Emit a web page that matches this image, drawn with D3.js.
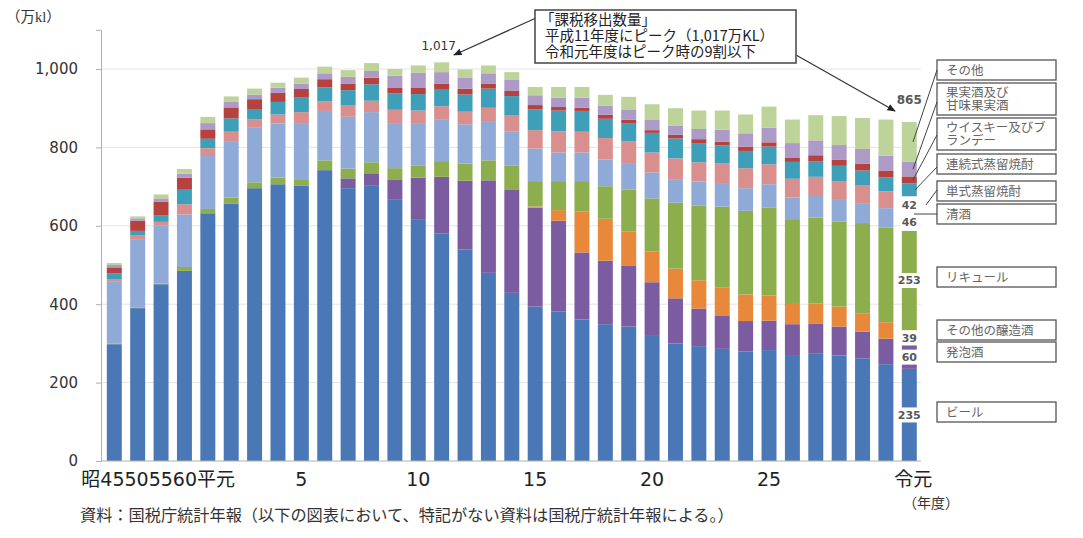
<!DOCTYPE html>
<html><head><meta charset="utf-8">
<script src="https://cdn.jsdelivr.net/npm/d3@7"></script>
<style>
body{margin:0;background:#fff;}
svg text{font-family:"DejaVu Sans","Noto Sans CJK JP",sans-serif;}
</style></head><body>
<svg id="c" width="1083" height="538"></svg>
<script>
// ---------------- data ----------------
const categories = ["昭45","昭50","昭55","昭60","平元","平2","平3","平4","平5","平6","平7","平8","平9","平10",
  "平11","平12","平13","平14","平15","平16","平17","平18","平19","平20","平21","平22","平23","平24","平25",
  "平26","平27","平28","平29","平30","令元"];
const beer        = [298,390,451,485,632,656,696,706,702,742,696,702,668,617,581,540,480,429,394,381,361,349,343,319,300,293,286,279,283,268,275,269,262,247,235];
const happoshu    = [0,0,0,0,0,0,0,0,0,0,25,32,49,106,144,175,236,264,252,232,171,162,156,137,115,96,84,78,75,81,76,74,68,65,60];
const otherBrewed = [0,0,0,0,0,0,0,0,0,0,0,0,0,0,0,0,0,0,3,27,104,107,87,78,76,72,72,68,64,54,51,51,47,42,39];
const liqueur     = [2,2,2,10,11,16,15,17,17,25,25,28,30,30,40,44,51,60,65,74,78,83,106,136,168,191,207,213,224,214,219,217,230,242,253];
const sake        = [157,174,147,134,135,144,139,138,143,126,132,128,115,109,107,100,98,87,83,73,73,68,68,66,60,61,60,58,60,55,55,55,49,49,46];
const shochuSingle= [7,9,10,26,20,24,22,23,28,24,30,29,34,32,33,32,36,41,47,54,53,55,55,51,53,49,51,51,51,48,49,48,48,43,42];
const shochuCont  = [15,12,16,37,24,34,26,32,37,36,38,42,42,42,42,44,49,50,53,53,53,49,47,50,51,49,45,44,45,43,40,39,37,36,33];
const whisky      = [15,26,36,31,24,28,25,23,22,21,17,17,15,17,15,15,13,13,11,9,8,10,9,7,9,10,10,11,11,10,15,15,17,17,18];
const wine        = [6,6,8,10,16,14,12,13,14,15,17,17,30,37,30,27,26,28,25,24,26,24,26,26,24,26,30,34,37,38,38,38,38,38,37];
const others      = [5,5,10,12,16,14,15,13,15,17,17,20,17,19,25,22,20,20,21,27,27,27,32,40,44,47,49,48,54,60,64,74,79,92,102];

const seriesNames = ["ビール","発泡酒","その他の醸造酒","リキュール","清酒","単式蒸留焼酎","連続式蒸留焼酎","ウイスキー及びブランデー","果実酒及び甘味果実酒","その他"];
const seriesValues = [beer,happoshu,otherBrewed,liqueur,sake,shochuSingle,shochuCont,whisky,wine,others];
const colors = ["#4A78B6","#7B5CA0","#E8883A","#8DAE4C","#8FAAD6","#D98F8E","#3E9FB8","#B5423F","#AE9AC6","#BDD39A"];

const yTicks = [0,200,400,600,800,1000];
const xTickCats = ["昭45","平5","平10","平15","平20","平25","令元"];
const xTickText = ["昭45505560平元","5","10","15","20","25","令元"];

const legendLines = [["その他"],["果実酒及び","甘味果実酒"],["ウイスキー及びブ","ランデー"],["連続式蒸留焼酎"],["単式蒸留焼酎"],["清酒"],["リキュール"],["その他の醸造酒"],["発泡酒"],["ビール"]];
const legendSeriesIdx = [9,8,7,6,5,4,3,2,1,0];

const noteLines = ["「課税移出数量」","平成11年度にピーク（1,017万KL）","令和元年度はピーク時の9割以下"];
const peakLabel = "1,017";
const lastTotalLabel = "865";
const unitLabel = "（万kl）";
const yearLabel = "（年度）";
const sourceText = "資料：国税庁統計年報（以下の図表において、特記がない資料は国税庁統計年報による。）";

// ---------------- chart ----------------
const svg = d3.select("#c");
svg.append("rect").attr("width",1083).attr("height",538).attr("fill","#fff");

const x = d3.scaleBand().domain(categories).range([102.6, 921]).paddingInner(0.36).paddingOuter(0.18);
const y = d3.scaleLinear().domain([0,1100]).range([461, 29.8]);

const rows = categories.map((c,i)=>{
  const r = {cat:c};
  seriesNames.forEach((s,k)=>{ r[s]=seriesValues[k][i]; });
  return r;
});
const stacked = d3.stack().keys(seriesNames)(rows);

// gridlines
svg.append("g").selectAll("line").data(yTicks.filter(d=>d>0)).join("line")
  .attr("x1",101).attr("x2",921).attr("y1",d=>y(d)).attr("y2",d=>y(d))
  .attr("stroke","#e4e4e4").attr("stroke-width",1);

// y axis
const yAxis = d3.axisLeft(y).tickValues(yTicks).tickSize(5).tickPadding(18).tickFormat(d3.format(","));
const ya = svg.append("g").attr("transform","translate(101,0)").call(yAxis);
ya.select(".domain").attr("stroke","#b0b0b0");
ya.selectAll(".tick line").attr("stroke","#b0b0b0");
ya.selectAll("text").attr("font-size",15).attr("fill","#333");

// bars
svg.append("g").selectAll("g").data(stacked).join("g")
  .attr("fill",(d,i)=>colors[i])
  .selectAll("rect").data(d=>d).join("rect")
  .attr("x",d=>x(d.data.cat)).attr("width",x.bandwidth())
  .attr("y",d=>y(d[1])).attr("height",d=>Math.max(0,y(d[0])-y(d[1])));

// x baseline
svg.append("line").attr("x1",101).attr("x2",921).attr("y1",y(0)).attr("y2",y(0)).attr("stroke","#b0b0b0");

// x axis labels
const xAxis = d3.axisBottom(x).tickValues(xTickCats).tickSize(0).tickPadding(12)
  .tickFormat(d=>xTickText[xTickCats.indexOf(d)]);
const xa = svg.append("g").attr("transform",`translate(0,${y(0)})`).call(xAxis);
xa.select(".domain").remove();
xa.selectAll("text").attr("font-size",19).attr("fill","#222");
xa.selectAll("text").filter(d=>d==="昭45").attr("text-anchor","start").attr("dx",-33);
xa.selectAll("text").filter(d=>d==="令元").attr("dx",4);

// last bar labels (centered in segments, white background)
const lastCat = categories[categories.length-1];
const li = categories.length-1;
const bx = x(lastCat), bw = x.bandwidth(), bc = bx + bw/2;
const lg = svg.append("g");
for (let k=0;k<6;k++){
  const s = stacked[k][li];
  const cy = (y(s[0])+y(s[1]))/2;
  if (k>=4){
    lg.append("rect").attr("x",bx-1).attr("width",bw+2).attr("y",y(s[1])).attr("height",y(s[0])-y(s[1])).attr("fill","#fff");
  } else {
    lg.append("rect").attr("x",bx-1).attr("width",bw+2).attr("y",cy-7.5).attr("height",15).attr("fill","#fff");
  }
}
for (let k=0;k<6;k++){
  const s = stacked[k][li];
  const cy = (y(s[0])+y(s[1]))/2;
  lg.append("text").attr("x",bc).attr("y",cy).attr("dy","0.36em").attr("text-anchor","middle")
    .attr("font-size",11).attr("font-weight","bold").attr("fill","#595959").text(seriesValues[k][li]);
}
const lastTotal = d3.sum(seriesValues,v=>v[li]);
svg.append("text").attr("x",bc).attr("y",y(lastTotal)-18).attr("text-anchor","middle")
  .attr("font-size",12).attr("font-weight","bold").attr("fill","#595959").text(lastTotalLabel);

// peak label
const peakIdx = categories.indexOf("平11");
const peakTotal = d3.sum(seriesValues,v=>v[peakIdx]);
svg.append("text").attr("x",x("平11")+x.bandwidth()/2-3).attr("y",y(peakTotal)-12).attr("text-anchor","middle")
  .attr("font-size",12).attr("fill","#333").text(peakLabel);

// arrows
const defs = svg.append("defs");
defs.append("marker").attr("id","ah").attr("viewBox","0 0 10 10").attr("refX",9).attr("refY",5)
  .attr("markerWidth",7).attr("markerHeight",7).attr("orient","auto")
  .append("path").attr("d","M0,1 L10,5 L0,9 Z").attr("fill","#222");
svg.append("line").attr("x1",536).attr("y1",18).attr("x2",454).attr("y2",55)
  .attr("stroke","#333").attr("stroke-width",1.2).attr("marker-end","url(#ah)");
svg.append("line").attr("x1",796).attr("y1",55).attr("x2",895).attr("y2",111)
  .attr("stroke","#333").attr("stroke-width",1.2).attr("marker-end","url(#ah)");

// note box
svg.append("rect").attr("x",535).attr("y",10).attr("width",261).attr("height",53)
  .attr("fill","#fff").attr("stroke","#444").attr("stroke-width",1.5);
noteLines.forEach((t,i)=>{
  svg.append("text").attr("x",i===0?540:545).attr("y",25+i*16).attr("font-size",14.5).attr("fill","#222")
    .style("font-family","'Noto Sans CJK JP',sans-serif").text(t);
});

// legend boxes
const boxTops = [60,83,118,154,181,204,267,320,342,402];
const lgBox = svg.append("g");
legendLines.forEach((lines,i)=>{
  const h = lines.length>1 ? 32 : 20;
  lgBox.append("rect").attr("x",937).attr("y",boxTops[i]).attr("width",119).attr("height",h)
    .attr("fill","#fff").attr("stroke","#555").attr("stroke-width",1.3);
  const t = lgBox.append("text").attr("x",946).attr("y",boxTops[i]+ (lines.length>1 ? 13.5 : 14.5))
    .attr("font-size",12.5).attr("fill","#666")
    .style("font-family","'Noto Sans CJK JP',sans-serif");
  lines.forEach((s,j)=>{
    t.append("tspan").attr("x",946).attr("dy", j===0 ? 0 : 13).text(s);
  });
});
// leader lines (legend -> last bar)
const leaderFromY = [70,102,135,167,190,214];
const leaderTo = [[913,null],[913,null],[913,null],[915,null],[926,205],[914,214]];
for (let i=0;i<6;i++){
  const k = legendSeriesIdx[i];
  const s = stacked[k][li];
  const ty = leaderTo[i][1]!==null ? leaderTo[i][1] : (y(s[0])+y(s[1]))/2;
  svg.append("line").attr("x1",937).attr("y1",leaderFromY[i]).attr("x2",leaderTo[i][0]).attr("y2",ty)
    .attr("stroke","#444").attr("stroke-width",1);
}

// texts
svg.append("text").attr("x",6).attr("y",22).attr("font-size",14.5).attr("fill","#333")
  .style("font-family","'Liberation Serif','Noto Sans CJK JP',serif").text(unitLabel);
svg.append("text").attr("x",931).attr("y",508).attr("text-anchor","middle").attr("font-size",14).attr("fill","#333")
  .style("font-family","'Noto Sans CJK JP',sans-serif").text(yearLabel);
svg.append("text").attr("x",80).attr("y",521).attr("font-size",16.2).attr("fill","#333")
  .style("font-family","'Noto Sans CJK JP',sans-serif").text(sourceText);
</script>
</body></html>
